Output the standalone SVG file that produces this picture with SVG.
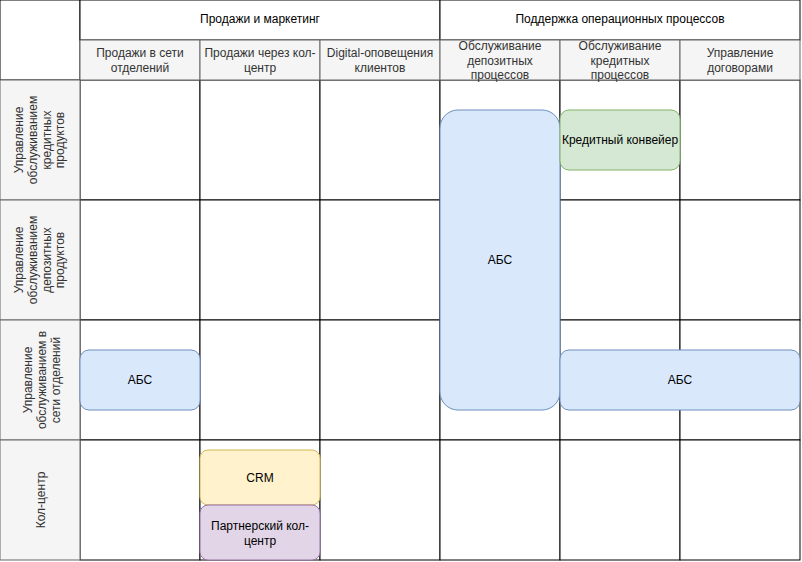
<svg xmlns="http://www.w3.org/2000/svg" width="802" height="562" viewBox="0 0 802 562">
<style>
text{font-family:"Liberation Sans",Arial,sans-serif;font-size:12px;text-anchor:middle}
.body{fill:#ffffff;stroke:#000000;stroke-width:1}
.hdr{fill:#f5f5f5;stroke:#666666;stroke-width:1}
.hdrt{fill:#333333}
.blk{fill:#000000}
.blue{fill:#dae8fc;stroke:#6c8ebf;stroke-width:1}
.green{fill:#d5e8d4;stroke:#82b366;stroke-width:1}
.yellow{fill:#fff2cc;stroke:#d6b656;stroke-width:1}
.purple{fill:#e1d5e7;stroke:#9673a6;stroke-width:1}
</style>
<rect x="0" y="0" width="802" height="562" fill="#ffffff"/>
<g id="body-cells">
<rect class="body" x="80" y="80" width="120" height="120"/>
<rect class="body" x="200" y="80" width="120" height="120"/>
<rect class="body" x="320" y="80" width="120" height="120"/>
<rect class="body" x="440" y="80" width="120" height="120"/>
<rect class="body" x="560" y="80" width="120" height="120"/>
<rect class="body" x="680" y="80" width="120" height="120"/>
<rect class="body" x="80" y="200" width="120" height="120"/>
<rect class="body" x="200" y="200" width="120" height="120"/>
<rect class="body" x="320" y="200" width="120" height="120"/>
<rect class="body" x="440" y="200" width="120" height="120"/>
<rect class="body" x="560" y="200" width="120" height="120"/>
<rect class="body" x="680" y="200" width="120" height="120"/>
<rect class="body" x="80" y="320" width="120" height="120"/>
<rect class="body" x="200" y="320" width="120" height="120"/>
<rect class="body" x="320" y="320" width="120" height="120"/>
<rect class="body" x="440" y="320" width="120" height="120"/>
<rect class="body" x="560" y="320" width="120" height="120"/>
<rect class="body" x="680" y="320" width="120" height="120"/>
<rect class="body" x="80" y="440" width="120" height="120"/>
<rect class="body" x="200" y="440" width="120" height="120"/>
<rect class="body" x="320" y="440" width="120" height="120"/>
<rect class="body" x="440" y="440" width="120" height="120"/>
<rect class="body" x="560" y="440" width="120" height="120"/>
<rect class="body" x="680" y="440" width="120" height="120"/>
</g>
<g id="corner"><rect class="body" x="0" y="0" width="80" height="80"/></g>
<g id="group-sales"><rect class="body" x="80" y="0" width="360" height="40"/><text class="blk" x="260" y="23">Продажи и маркетинг</text></g>
<g id="group-ops"><rect class="body" x="440" y="0" width="360" height="40"/><text class="blk" x="620" y="23">Поддержка операционных процессов</text></g>
<g id="col-1"><rect class="hdr" x="80" y="40" width="120" height="40"/><text class="hdrt" x="140" y="57">Продажи в сети</text><text class="hdrt" x="140" y="71.5">отделений</text></g>
<g id="col-2"><rect class="hdr" x="200" y="40" width="120" height="40"/><text class="hdrt" x="260" y="57">Продажи через кол-</text><text class="hdrt" x="260" y="71.5">центр</text></g>
<g id="col-3"><rect class="hdr" x="320" y="40" width="120" height="40"/><text class="hdrt" x="380" y="57">Digital-оповещения</text><text class="hdrt" x="380" y="71.5">клиентов</text></g>
<g id="col-4"><rect class="hdr" x="440" y="40" width="120" height="40"/><text class="hdrt" x="500" y="50">Обслуживание</text><text class="hdrt" x="500" y="64.5">депозитных</text><text class="hdrt" x="500" y="79">процессов</text></g>
<g id="col-5"><rect class="hdr" x="560" y="40" width="120" height="40"/><text class="hdrt" x="620" y="50">Обслуживание</text><text class="hdrt" x="620" y="64.5">кредитных</text><text class="hdrt" x="620" y="79">процессов</text></g>
<g id="col-6"><rect class="hdr" x="680" y="40" width="120" height="40"/><text class="hdrt" x="740" y="57">Управление</text><text class="hdrt" x="740" y="71.5">договорами</text></g>
<g id="row-1"><rect class="hdr" x="0" y="80" width="80" height="120"/>
<text class="hdrt" transform="translate(23,140) rotate(-90)">Управление</text>
<text class="hdrt" transform="translate(37,140) rotate(-90)">обслуживанием</text>
<text class="hdrt" transform="translate(51,140) rotate(-90)">кредитных</text>
<text class="hdrt" transform="translate(64,140) rotate(-90)">продуктов</text></g>
<g id="row-2"><rect class="hdr" x="0" y="200" width="80" height="120"/>
<text class="hdrt" transform="translate(23,260) rotate(-90)">Управление</text>
<text class="hdrt" transform="translate(37,260) rotate(-90)">обслуживанием</text>
<text class="hdrt" transform="translate(51,260) rotate(-90)">депозитных</text>
<text class="hdrt" transform="translate(64,260) rotate(-90)">продуктов</text></g>
<g id="row-3"><rect class="hdr" x="0" y="320" width="80" height="120"/>
<text class="hdrt" transform="translate(32,380) rotate(-90)">Управление</text>
<text class="hdrt" transform="translate(46,380) rotate(-90)">обслуживанием в</text>
<text class="hdrt" transform="translate(60,380) rotate(-90)">сети отделений</text></g>
<g id="row-4"><rect class="hdr" x="0" y="440" width="80" height="120"/>
<text class="hdrt" transform="translate(45,500) rotate(-90)">Кол-центр</text></g>
<g id="abs-deposit"><rect class="blue" x="440" y="110" width="120" height="300" rx="18" ry="18"/><text class="blk" x="500" y="264">АБС</text></g>
<g id="credit-conveyor"><rect class="green" x="560" y="110" width="120" height="60" rx="9" ry="9"/><text class="blk" x="620" y="144">Кредитный конвейер</text></g>
<g id="abs-branch"><rect class="blue" x="80" y="350" width="120" height="60" rx="9" ry="9"/><text class="blk" x="140" y="384">АБС</text></g>
<g id="abs-ops"><rect class="blue" x="560" y="350" width="240" height="60" rx="9" ry="9"/><text class="blk" x="680" y="384">АБС</text></g>
<g id="crm"><rect class="yellow" x="200" y="450" width="120" height="55" rx="8" ry="8"/><text class="blk" x="260" y="482">CRM</text></g>
<g id="partner-cc"><rect class="purple" x="200" y="505" width="120" height="55" rx="8" ry="8"/><text class="blk" x="260" y="530">Партнерский кол-</text><text class="blk" x="260" y="544.5">центр</text></g>
<g id="connectors"></g>
</svg>
